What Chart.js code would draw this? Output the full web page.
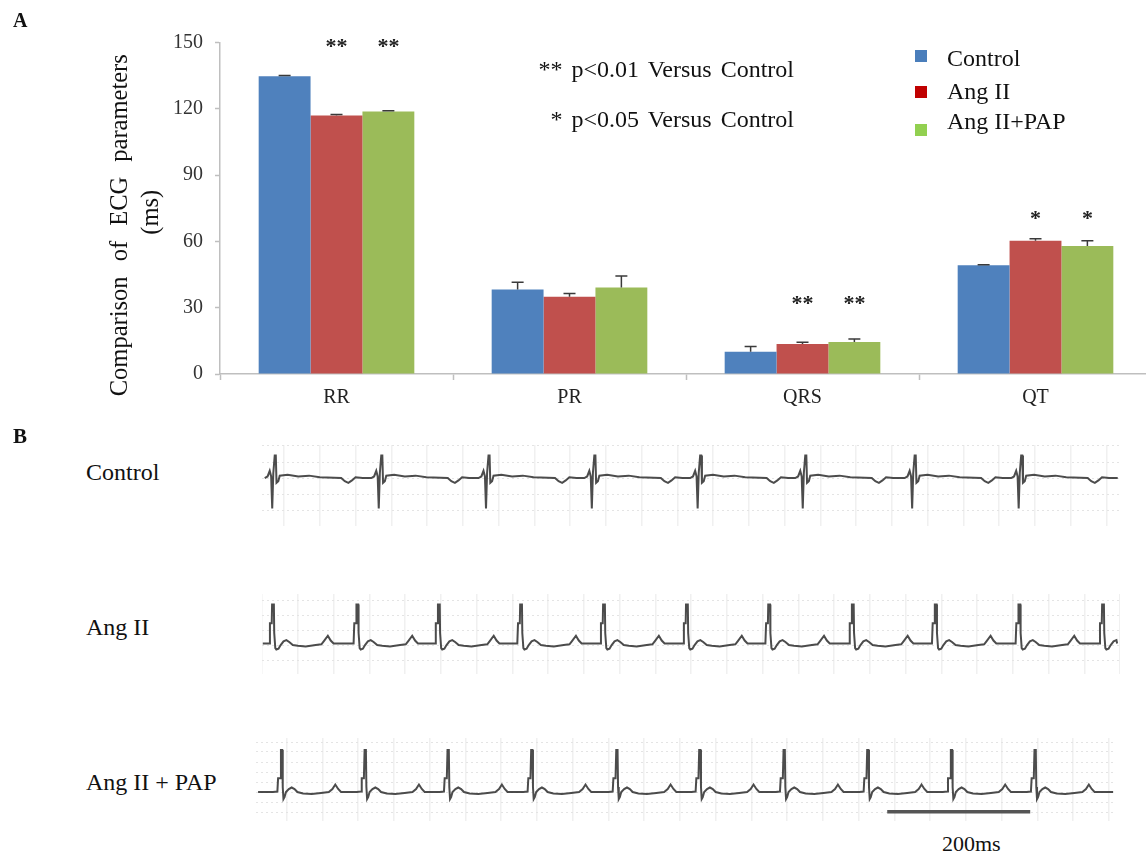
<!DOCTYPE html>
<html><head><meta charset="utf-8">
<script src="https://cdn.jsdelivr.net/npm/chart.js@4.4.1/dist/chart.umd.min.js"></script>
<style>
html,body{margin:0;padding:0;background:#fff;overflow:hidden;width:1146px;height:856px}
#wrap{position:relative;width:1146px;height:856px;overflow:hidden;font-family:"Liberation Serif","Times New Roman",serif;color:#111}
.t{position:absolute;white-space:pre;line-height:1}
canvas{position:absolute}
</style></head>
<body><div id="wrap">
<canvas id="bars" width="1160" height="410" style="left:0;top:0"></canvas>
<canvas id="ecg0" width="860" height="81" style="left:262px;top:445px"></canvas>
<canvas id="ecg1" width="858" height="80" style="left:262px;top:594px"></canvas>
<canvas id="ecg2" width="860" height="83" style="left:256px;top:738px"></canvas>

<div class="t" style="left:13px;top:10px;font-size:20px;font-weight:bold">A</div>
<div class="t" style="left:13px;top:426px;font-size:21px;font-weight:bold">B</div>
<div class="t" id="yt1" style="font-size:24.5px;width:400px;height:24.5px;text-align:center;word-spacing:9px;left:-81px;top:213px;transform:rotate(-90deg)">Comparison of ECG parameters</div>
<div class="t" id="yt2" style="font-size:24.5px;width:100px;height:24.5px;text-align:center;left:100px;top:200px;transform:rotate(-90deg)">(ms)</div>
<div class="t" style="right:352px;top:56.6px;font-size:24px;word-spacing:3px">** p&lt;0.01 Versus Control</div>
<div class="t" style="right:352px;top:106.6px;font-size:24px;word-spacing:3px">* p&lt;0.05 Versus Control</div>
<div class="t" style="left:86px;top:460px;font-size:24px">Control</div>
<div class="t" style="left:86px;top:615px;font-size:24px">Ang II</div>
<div class="t" style="left:86px;top:770px;font-size:24px">Ang II + PAP</div>
<div class="t" style="left:942px;top:833px;font-size:22px">200ms</div>
</div>
<script>
// ---------- Panel A data ----------
const categories = ["RR", "PR", "QRS", "QT"];
const seriesNames = ["Control", "Ang II", "Ang II+PAP"];
const controlMean = [134.8, 38.3, 10.1, 49.2];
const angIIMean   = [117.0, 35.0, 13.6, 60.3];
const papMean     = [118.9, 39.2, 14.5, 57.9];
const controlSem  = [0.3, 3.2, 2.4, 0.3];
const angIISem    = [0.5, 1.4, 0.8, 0.9];
const papSem      = [0.3, 5.2, 1.3, 2.4];
const controlSig  = ["", "", "", ""];
const angIISig    = ["**", "", "**", "*"];
const papSig      = ["**", "", "**", "*"];
const starLevel   = [150.8, 0, 34.4, 73.0];   // ms level where significance marks sit
const yTicks = {min: 0, max: 150, step: 30};

// ---------- Panel B data (ECG traces) ----------
// R-wave times (ms)
const beatsControl = [-15, 134, 284, 432, 580, 727, 880, 1029];
const beatsAngII   = [-25, 93, 207, 322, 438, 554, 669, 786, 902, 1019, 1136];
const beatsPAP     = [-7, 110, 226, 343, 462, 578, 696, 813, 930, 1047];
// one-beat shapes: [ms from R, amplitude in grid units]
const shapeControl = [[-12,0],[-8,0.1],[-5,0.45],[-3,0.1],[-1.5,-1.9],[0,0.3],[2,1.4],[3.5,1.4],[4.5,-0.3],[7,-0.2],[9,0.15],[20,0.2],[35,0.1],[50,0.15],[65,0.05],[95,0],[100,-0.2],[105,-0.3],[110,-0.15],[115,0.05],[125,0]];
const shapeAngII   = [[-12,0.1],[-5,0.1],[-4,1.45],[-1.5,1.45],[-1,2.7],[1.5,2.7],[2,0.8],[3.5,-0.2],[5,-0.3],[8,-0.25],[11,0],[15,0.25],[19,0.33],[23,0.2],[28,0],[35,-0.05],[46,-0.1],[60,0],[68,0.05],[72,0.3],[77,0.62],[81,0.3],[85,0.1],[100,0.1]];
const shapePAP     = [[-12,0],[-6,0.05],[-5,1.37],[-2,1.37],[-1,4.2],[0.8,4.2],[1.5,0.5],[2.5,-0.7],[4,-0.5],[6,0],[10,0.3],[14,0.45],[18,0.3],[22,0],[30,-0.15],[42,-0.2],[55,-0.1],[66,0],[71,0.3],[75,0.75],[79,0.3],[83,0],[100,0]];
const traceStart = [-27, -39, -40];
const traceEnd   = [1166, 1156, 1156];
const scaleBarMs = [840, 1040];   // 200 ms calibration bar

// ---------- styles ----------
const barColors = ["#4f81bd", "#c0504d", "#9bbb59"];
const legendColors = ["#4a7ebb", "#c00000", "#92d050"];
const FONT = "Liberation Serif";

const means = [controlMean, angIIMean, papMean];
const sems = [controlSem, angIISem, papSem];
const sigs = [controlSig, angIISig, papSig];

const annotPlugin = {
  id: 'annot',
  afterDatasetsDraw(chart) {
    const ctx = chart.ctx, y = chart.scales.y;
    ctx.save();
    // error bars
    ctx.strokeStyle = '#3a3a3a'; ctx.lineWidth = 1.5;
    chart.data.datasets.forEach((ds, i) => {
      chart.getDatasetMeta(i).data.forEach((bar, j) => {
        const top = y.getPixelForValue(means[i][j] + sems[i][j]);
        ctx.beginPath();
        ctx.moveTo(bar.x, bar.y); ctx.lineTo(bar.x, top);
        ctx.moveTo(bar.x - 6, top); ctx.lineTo(bar.x + 6, top);
        ctx.stroke();
      });
    });
    // significance stars
    ctx.fillStyle = '#222'; ctx.font = 'bold 22px "' + FONT + '"';
    ctx.textAlign = 'center'; ctx.textBaseline = 'alphabetic';
    chart.data.datasets.forEach((ds, i) => {
      chart.getDatasetMeta(i).data.forEach((bar, j) => {
        const s = sigs[i][j];
        if (!s) return;
        ctx.fillText(s, bar.x, y.getPixelForValue(starLevel[j]) + 12);
      });
    });
    // legend
    const sqTop = [50, 86, 124], base = [66, 99.3, 129.3];
    ctx.font = '24px "' + FONT + '"'; ctx.textAlign = 'left'; ctx.fillStyle = '#111';
    seriesNames.forEach((n, i) => {
      ctx.fillStyle = legendColors[i];
      ctx.fillRect(915, sqTop[i], 12, 12);
      ctx.fillStyle = '#111';
      ctx.fillText(n, 947, base[i]);
    });
    ctx.restore();
  }
};

new Chart(document.getElementById('bars'), {
  type: 'bar',
  data: {
    labels: categories,
    datasets: seriesNames.map((n, i) => ({
      label: n, data: means[i], backgroundColor: barColors[i], borderWidth: 0,
      categoryPercentage: 0.668, barPercentage: 1.0
    }))
  },
  options: {
    responsive: false, animation: false,
    layout: {padding: {top: 42.7, right: 8, left: 0, bottom: 0}},
    plugins: {legend: {display: false}, tooltip: {enabled: false}},
    scales: {
      x: {
        grid: {offset: true, drawOnChartArea: false, drawTicks: true, tickLength: 6, color: '#bfbfbf', tickWidth: 1.5},
        border: {color: '#bfbfbf', width: 1.5},
        ticks: {font: {family: FONT, size: 20}, color: '#222', padding: 6, maxRotation: 0},
        afterFit(s) { s.height = 36; }
      },
      y: {
        min: yTicks.min, max: yTicks.max,
        grid: {drawOnChartArea: false, drawTicks: true, tickLength: 5, color: '#bfbfbf', tickWidth: 1.5},
        border: {color: '#bfbfbf', width: 1.5},
        ticks: {stepSize: yTicks.step, font: {family: FONT, size: 20}, color: '#333', padding: 12},
        afterFit(s) { s.width = 220; }
      }
    }
  },
  plugins: [annotPlugin]
});

// ---------- ECG traces ----------
function buildTrace(beats, shape, start, end) {
  const pts = [{x: start, y: shape[0][1]}];
  beats.forEach(b => shape.forEach(([dt, v]) => {
    const x = b + dt;
    if (x > start && x < end) pts.push({x: x, y: v});
  }));
  pts.push({x: end, y: shape[shape.length - 1][1]});
  pts.sort((a, b) => a.x - b.x);
  return pts;
}

const ecgDefs = [
  {id: 'ecg0', beats: beatsControl, shape: shapeControl, xmin: -30.8, xmax: 1172, ymin: -2.99, ymax: 2.06},
  {id: 'ecg1', beats: beatsAngII, shape: shapeAngII, xmin: -40.1, xmax: 1160, ymin: -1.93, ymax: 3.4},
  {id: 'ecg2', beats: beatsPAP, shape: shapePAP, xmin: -42.9, xmax: 1160, ymin: -2.9, ymax: 5.4}
];

ecgDefs.forEach((d, k) => {
  const datasets = [{
    data: buildTrace(d.beats, d.shape, traceStart[k], traceEnd[k]),
    borderColor: 'rgba(45,45,45,0.85)', borderWidth: 2, pointRadius: 0, tension: 0
  }];
  if (k === 2) {
    datasets.push({
      data: [{x: scaleBarMs[0], y: -1.97}, {x: scaleBarMs[1], y: -1.97}],
      borderColor: '#555', borderWidth: 3.5, pointRadius: 0
    });
  }
  new Chart(document.getElementById(d.id), {
    type: 'line',
    data: {datasets},
    options: {
      responsive: false, animation: false,
      layout: {padding: 0},
      plugins: {legend: {display: false}, tooltip: {enabled: false}},
      scales: {
        x: {type: 'linear', min: d.xmin, max: d.xmax,
            ticks: {display: false, stepSize: 50, includeBounds: false},
            grid: {color: '#f0f0f0', lineWidth: 1.5, drawTicks: false},
            border: {display: false}},
        y: {type: 'linear', min: d.ymin, max: d.ymax,
            ticks: {display: false, stepSize: 1, includeBounds: false},
            grid: {color: '#e4e4e4', lineWidth: 1, drawTicks: false},
            border: {display: false, dash: [2, 3]}}
      }
    }
  });
});
</script>
</body></html>
